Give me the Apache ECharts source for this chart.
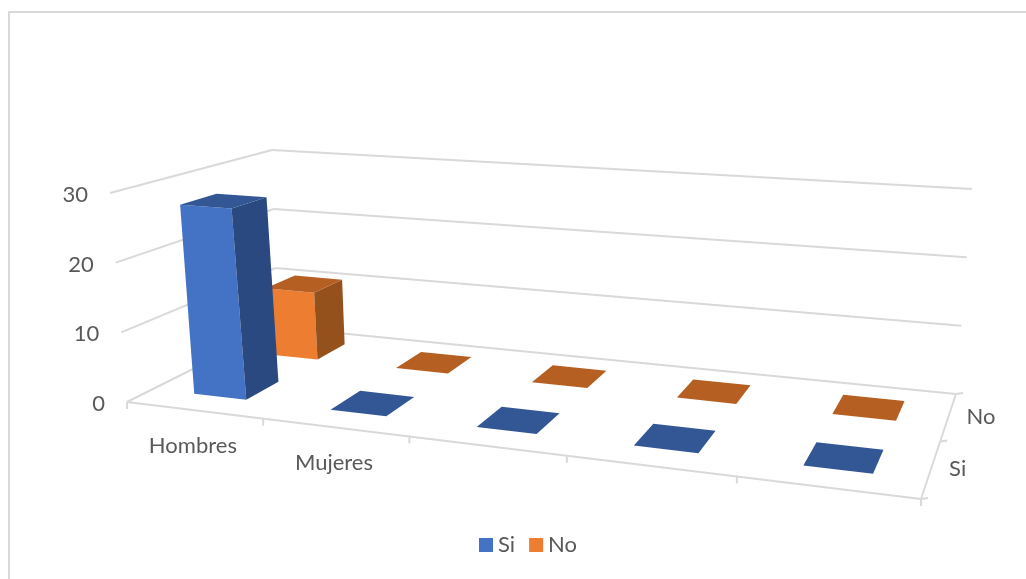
<!DOCTYPE html>
<html><head><meta charset="utf-8">
<style>html,body{margin:0;padding:0;background:#fff}#c{width:1026px;height:579px}</style>
<script src="https://cdn.jsdelivr.net/npm/echarts@6/dist/echarts.min.js"></script>
</head><body><div id="c"></div>
<script>
var categories = ['Hombres', 'Mujeres', '', '', ''];
var depthLabels = ['Si', 'No'];
var siValues = [27.6, 0, 0, 0, 0];
var noValues = [10.5, 0, 0, 0, 0];
var valueTicks = [0, 10, 20, 30];

var W = 1026, H = 579, FONT = 'Lato, "Open Sans", sans-serif', TXT = '#595959', LINE = '#d9d9d9';
var BAR_U = 0.39, BAR_V = 0.43, SHIFT_U = 0.002, SHIFT_V = 0.01;
function homography(p) {
  var x0=p[0][0],y0=p[0][1],x1=p[1][0],y1=p[1][1],x2=p[2][0],y2=p[2][1],x3=p[3][0],y3=p[3][1];
  var dx1=x1-x2,dx2=x3-x2,sx=x0-x1+x2-x3,dy1=y1-y2,dy2=y3-y2,sy=y0-y1+y2-y3;
  var den=dx1*dy2-dx2*dy1,g=(sx*dy2-dx2*sy)/den,h=(dx1*sy-sx*dy1)/den;
  var a=x1-x0+g*x1,b=x3-x0+h*x3,d=y1-y0+g*y1,e=y3-y0+h*y3;
  return function(u,v){var q=g*u+h*v+1;return [(a*u+b*v+x0)/q,(d*u+e*v+y0)/q];};
}
var floorH = homography([[127,402],[921,499],[956,394],[277,327]]);
var ceilH  = homography([[110,193],[937,254],[972,189],[272,150]]);
function P(u,v,w){var a=floorH(u,v),b=ceilH(u,v);return [a[0]+(b[0]-a[0])*w,a[1]+(b[1]-a[1])*w];}

function barRenderer(depthIndex, colors) {
  return function(params, api) {
    var c = api.coord([api.value(0), api.value(1)]);
    var base = api.coord([api.value(0), 0]);
    var band = api.size([1, 0])[0] / W;
    var uc = base[0] / W + SHIFT_U, w = 1 - c[1] / H, vc = (depthIndex + 0.5) / depthLabels.length + SHIFT_V;
    var u0 = uc - band*BAR_U/2, u1 = uc + band*BAR_U/2;
    var dv = BAR_V / depthLabels.length / 2, v0 = vc - dv, v1 = vc + dv;
    var kids = [];
    function face(pts, col){kids.push({type:'polygon',shape:{points:pts},style:{fill:col}});}
    if (w > 0) {
      face([P(u0,v0,0),P(u1,v0,0),P(u1,v0,w),P(u0,v0,w)], colors.front);
      face([P(u1,v0,0),P(u1,v1,0),P(u1,v1,w),P(u1,v0,w)], colors.side);
    }
    face([P(u0,v0,w),P(u1,v0,w),P(u1,v1,w),P(u0,v1,w)], colors.top);
    return {type:'group',children:kids};
  };
}
function frameRenderer(params, api) {
  var kids = [];
  function line(a,b){kids.push({type:'line',shape:{x1:a[0],y1:a[1],x2:b[0],y2:b[1]},style:{stroke:LINE,lineWidth:2}});}
  function text(s,p,al){kids.push({type:'text',style:{text:s,x:p[0],y:p[1],textAlign:al,textVerticalAlign:'middle',fontFamily:FONT,fontSize:22,fill:TXT}});}
  valueTicks.forEach(function(t){
    var w = 1 - api.coord([0,t])[1] / H;
    var a=P(0,0,w), b=P(0,1,w), c=P(1,1,w);
    line(a,b); line(b,c);
    text(String(t),[a[0]-22,a[1]+2],'right');
  });
  var band = api.size([1,0])[0] / W;
  line(P(0,0,0),P(1,0,0)); line(P(1,0,0),P(1,1,0));
  categories.forEach(function(name,i){
    var uc = api.coord([i,0])[0] / W, e = uc - band/2;
    var p = P(e,0,0); line(p,[p[0],p[1]+7]);
    if (name) { var m=P(uc,0,0); text(name,[m[0]-1,m[1]+36],'center'); }
  });
  var endp=P(1,0,0); line(endp,[endp[0],endp[1]+7]);
  depthLabels.forEach(function(name,j){
    var p=P(1,j/depthLabels.length,0); line(p,[p[0]+7,p[1]-1]);
    var m=P(1,(j+0.5)/depthLabels.length,0); text(name,[m[0]+18,m[1]],'left');
  });
  var q=P(1,1,0); line(q,[q[0]+7,q[1]-1]);
  return {type:'group',children:kids};
}
function rows(values){return values.map(function(v,i){return [i,v];});}

var chart = echarts.init(document.getElementById('c'), null, {renderer:'canvas'});
chart.setOption({
  animation:false,
  backgroundColor:'#ffffff',
  grid:{left:0,top:0,width:W,height:H,containLabel:false},
  xAxis:{type:'category',data:categories.map(function(c,i){return c||('\u200b'.repeat(i));}),show:false,boundaryGap:true},
  yAxis:{type:'value',min:0,max:30,interval:10,show:false},
  legend:{data:['Si','No'],left:479,top:534,padding:0,itemWidth:14,itemHeight:14,itemGap:14,icon:'rect',
    textStyle:{color:TXT,fontFamily:FONT,fontSize:22,padding:[0,0,0,0]},selectedMode:false},
  graphic:[{type:'rect',z:-10,shape:{x:9,y:12,width:1100,height:1100},style:{fill:'#fff',stroke:LINE,lineWidth:2}}],
  series:[
    {type:'custom',name:'frame',z:1,silent:true,clip:false,data:[[0,0]],renderItem:frameRenderer},
    {type:'custom',name:'No',z:2,clip:false,itemStyle:{color:'#ED7D31'},data:rows(noValues),encode:{x:0,y:1},
     renderItem:barRenderer(1,{front:'#ED7D31',side:'#95511C',top:'#B55F23'})},
    {type:'custom',name:'Si',z:3,clip:false,itemStyle:{color:'#4472C4'},data:rows(siValues),encode:{x:0,y:1},
     renderItem:barRenderer(0,{front:'#4472C4',side:'#2A4980',top:'#335695'})}
  ]
});
</script></body></html>
